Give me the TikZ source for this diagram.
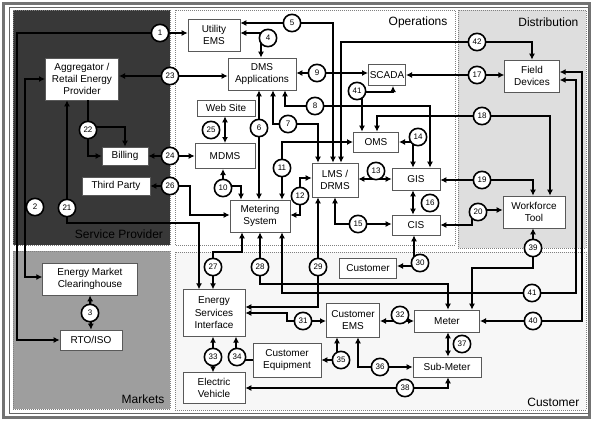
\documentclass[tikz,border=0pt]{standalone}
\usepackage{fontspec}
\setmainfont{Liberation Sans}
\usetikzlibrary{arrows.meta}
\begin{document}
\begin{tikzpicture}[x=0.75pt,y=-0.75pt,
  box/.style={draw=black!65, line width=0.5pt, fill=white, align=center, inner sep=1pt, font=\fontsize{7.5}{9.3}\selectfont},
  conn/.style={line width=1.7pt, {Latex[length=4.5pt,width=4.5pt]}-{Latex[length=4.5pt,width=4.5pt]}},
  conne/.style={line width=1.7pt, -{Latex[length=4.5pt,width=4.5pt]}},
  num/.style={circle, draw=black, line width=1.2pt, fill=white, minimum size=13pt, inner sep=0pt, font=\fontsize{6}{6}\selectfont},
  region/.style={draw=black!50, line width=0.5pt, densely dotted},
  rlabel/.style={font=\fontsize{9}{10}\selectfont, inner sep=1pt}
]
\useasboundingbox (0,0) rectangle (593,421);
\fill[white] (0,0) rectangle (593,421);
\draw[black!55, line width=2.2pt] (3.5,3.5) rectangle (589.5,417.5);
\draw[black!60, line width=0.5pt] (9,7) rectangle (588.5,413.5);
% regions
\path[region, fill=black!78] (13,10) rectangle (170,245);
\path[region, fill=white] (175,10) rectangle (455,245);
\path[region, fill=black!13] (458,10) rectangle (586,248);
\path[region, fill=black!38] (13,251) rectangle (170,409);
\path[region, fill=black!3] (175,252) rectangle (586,410);
\node[rlabel, anchor=east] (lops) at (449,22) {Operations};
\node[rlabel, anchor=east] (ldist) at (580,22) {Distribution};
\node[rlabel, text=black!100] (lsp) at (119,234) {Service Provider};
\node[rlabel, anchor=east] (lmkt) at (166,399) {Markets};
\node[rlabel, anchor=east] (lcust) at (581,402) {Customer};
% boxes
\node[box, minimum width=39pt, minimum height=24pt] (uems) at (214,35) {Utility\\EMS};
\node[box, minimum width=51pt, minimum height=24pt] (dms) at (262,74) {DMS\\Applications};
\node[box, minimum width=28pt, minimum height=16pt] (scada) at (387,75) {SCADA};
\node[box, minimum width=41pt, minimum height=24pt] (fd) at (532,76) {Field\\Devices};
\node[box, minimum width=55pt, minimum height=31.5pt] (agg) at (82,79) {Aggregator /\\Retail Energy\\Provider};
\node[box, minimum width=43.5pt, minimum height=12pt] (web) at (226,108) {Web Site};
\node[box, minimum width=45pt, minimum height=19pt] (mdms) at (225,156) {MDMS};
\node[box, minimum width=34.5pt, minimum height=13.5pt] (bill) at (125,156) {Billing};
\node[box, minimum width=51pt, minimum height=13.5pt] (third) at (116,186) {Third Party};
\node[box, minimum width=45pt, minimum height=24pt] (msys) at (260,216) {Metering\\System};
\node[box, minimum width=34.5pt, minimum height=25.5pt] (lms) at (335,180) {LMS /\\DRMS};
\node[box, minimum width=34pt, minimum height=15pt] (oms) at (376,142) {OMS};
\node[box, minimum width=36pt, minimum height=16.5pt] (gis) at (416,179) {GIS};
\node[box, minimum width=36pt, minimum height=15pt] (cis) at (416,225) {CIS};
\node[box, minimum width=46.5pt, minimum height=24pt] (wft) at (534,212) {Workforce\\Tool};
\node[box, minimum width=43pt, minimum height=15pt] (cust) at (368,268) {Customer};
\node[box, minimum width=71pt, minimum height=24pt] (emc) at (90,279) {Energy Market\\Clearinghouse};
\node[box, minimum width=46.5pt, minimum height=15pt] (rto) at (91,340) {RTO/ISO};
\node[box, minimum width=46.5pt, minimum height=35pt] (esi) at (214,313) {Energy\\Services\\Interface};
\node[box, minimum width=40pt, minimum height=25.5pt] (cems) at (353,320) {Customer\\EMS};
\node[box, minimum width=51pt, minimum height=25.5pt] (ceq) at (287,360) {Customer\\Equipment};
\node[box, minimum width=46.5pt, minimum height=23pt] (ev) at (214,388) {Electric\\Vehicle};
\node[box, minimum width=49pt, minimum height=16.5pt] (meter) at (447,321) {Meter};
\node[box, minimum width=51pt, minimum height=15pt] (sub) at (447,367) {Sub-Meter};
% connectors
\draw[conn] (rto.west) -- (17,340) -- (17,33) -- (uems.west |- 17,33);
\draw[conn] (agg.west |- 0,79) -- (25,79) -- (25,277) -- (emc.west |- 0,277);
\draw[conn] (emc.south) -- (rto.north);
\draw[conn] (uems.east |- 0,33) -- (261,33) -- (261,0 |- dms.north);
\draw[conn] (uems.east |- 0,23) -- (333,23) -- (333,0 |- lms.north);
\draw[conn] (341,0 |- lms.north) -- (341,42) -- (532,42) -- (532,0 |- fd.north);
\draw[conn] (dms.east |- 0,73) -- (scada.west |- 0,73);
\draw[conn] (scada.east) -- (fd.west |- scada.east);
\draw[conn] (362,0 |- oms.north) -- (362,92) -- (393,92) -- (393,0 |- scada.south);
\draw[conn] (285,0 |- dms.south) -- (285,106) -- (430,106) -- (430,0 |- gis.north);
\draw[conn] (377,0 |- oms.north) -- (377,116) -- (550,116) -- (550,0 |- wft.north);
\draw[conn] (259,0 |- dms.south) -- (259,0 |- msys.north);
\draw[conn] (273,0 |- dms.south) -- (273,124) -- (318,124) -- (318,0 |- lms.north);
\draw[conn] (282,0 |- msys.north) -- (282,142) -- (oms.west |- 0,142);
\draw[conn] (223,0 |- mdms.south) -- (223,186) -- (241,186) -- (241,0 |- msys.north);
\draw[conn] (msys.east |- 0,215) -- (300,215) -- (300,178) -- (lms.west |- 0,178);
\draw[conn] (lms.east |- 0,179) -- (gis.west |- 0,179);
\draw[conn] (oms.east |- 0,142) -- (413,142) -- (413,0 |- gis.north);
\draw[conn] (335,0 |- lms.south) -- (335,224) -- (cis.west |- 0,224);
\draw[conn] (413,0 |- gis.south) -- (413,0 |- cis.north);
\draw[conn] (gis.east |- 0,180) -- (533,180) -- (533,0 |- wft.north);
\draw[conn] (cis.east |- 0,225) -- (472,225) -- (472,210) -- (wft.west |- 0,210);
\draw[conn] (533,0 |- wft.south) -- (533,268) -- (472,268) -- (472,0 |- meter.north);
\draw[conn] (260,0 |- msys.south) -- (260,284) -- (448,284) -- (448,0 |- meter.north);
\draw[conn] (282,0 |- msys.south) -- (282,293) -- (576,293) -- (576,80) -- (fd.east |- 0,80);
\draw[conn] (meter.east |- 0,321) -- (582,321) -- (582,72) -- (fd.east |- 0,72);
\draw[conn] (318,0 |- lms.south) -- (318,307) -- (esi.east |- 0,307);
\draw[conn] (242,0 |- msys.south) -- (242,252) -- (213,252) -- (213,0 |- esi.north);
\draw[conn] (67,0 |- agg.south) -- (67,223) -- (199,223) -- (199,0 |- esi.north);
\draw[conne] (88,0 |- agg.south) -- (88,156) -- (bill.west |- 0,156);
\draw[conne] (88,127) -- (125,127) -- (125,0 |- bill.north);
\draw[conn] (agg.east |- 0,76) -- (dms.west |- 0,76);
\draw[conn] (bill.east) -- (mdms.west |- bill.east);
\draw[conn] (third.east) -- (190,186) -- (190,215) -- (msys.west |- 0,215);
\draw[conn] (225,0 |- web.south) -- (225,0 |- mdms.north);
\draw[conn] (414,0 |- cis.south) -- (414,266) -- (cust.east |- 0,266);
\draw[conn] (esi.east |- 0,313) -- (287,313) -- (287,321) -- (cems.west |- 0,321);
\draw[conn] (cems.east |- 0,321) -- (meter.west |- 0,321);
\draw[conn] (213,0 |- esi.south) -- (213,0 |- ev.north);
\draw[conne] (ceq.west |- 0,360) -- (236,360) -- (236,0 |- esi.south);
\draw[conn] (ceq.east |- 0,360) -- (337,360) -- (337,0 |- cems.south);
\draw[conn] (358,0 |- cems.south) -- (358,367) -- (sub.west |- 0,367);
\draw[conn] (448,0 |- meter.south) -- (448,0 |- sub.north);
\draw[conn] (448,0 |- sub.south) -- (448,388) -- (ev.east |- 0,388);
% numbered circles
\node[num] (c1) at (160,33) {1};
\node[num] (c2) at (35,207) {2};
\node[num] (c3) at (90,313) {3};
\node[num] (c4) at (268,38) {4};
\node[num] (c5) at (292,23) {5};
\node[num] (c6) at (259,128) {6};
\node[num] (c7) at (288,124) {7};
\node[num] (c8) at (315,106) {8};
\node[num] (c9) at (317,73) {9};
\node[num] (c10) at (223,188) {10};
\node[num] (c11) at (282,168) {11};
\node[num] (c12) at (300,196) {12};
\node[num] (c13) at (376,171) {13};
\node[num] (c14) at (418,137) {14};
\node[num] (c15) at (358,224) {15};
\node[num] (c16) at (430,203) {16};
\node[num] (c17) at (477,75) {17};
\node[num] (c18) at (482,116) {18};
\node[num] (c19) at (482,180) {19};
\node[num] (c20) at (478,212) {20};
\node[num] (c21) at (67,208) {21};
\node[num] (c22) at (88,130) {22};
\node[num] (c23) at (170,76) {23};
\node[num] (c24) at (170,156) {24};
\node[num] (c25) at (211,130) {25};
\node[num] (c26) at (170,186) {26};
\node[num] (c27) at (213,267) {27};
\node[num] (c28) at (260,267) {28};
\node[num] (c29) at (318,267) {29};
\node[num] (c30) at (420,263) {30};
\node[num] (c31) at (303,321) {31};
\node[num] (c32) at (400,315) {32};
\node[num] (c33) at (213,357) {33};
\node[num] (c34) at (237,357) {34};
\node[num] (c35) at (341,360) {35};
\node[num] (c36) at (380,367) {36};
\node[num] (c37) at (462,344) {37};
\node[num] (c38) at (405,388) {38};
\node[num] (c39) at (533,248) {39};
\node[num] (c40) at (533,321) {40};
\node[num] (c41a) at (357,91) {41};
\node[num] (c41b) at (532,293) {41};
\node[num] (c42) at (477,42) {42};
\end{tikzpicture}
\end{document}
